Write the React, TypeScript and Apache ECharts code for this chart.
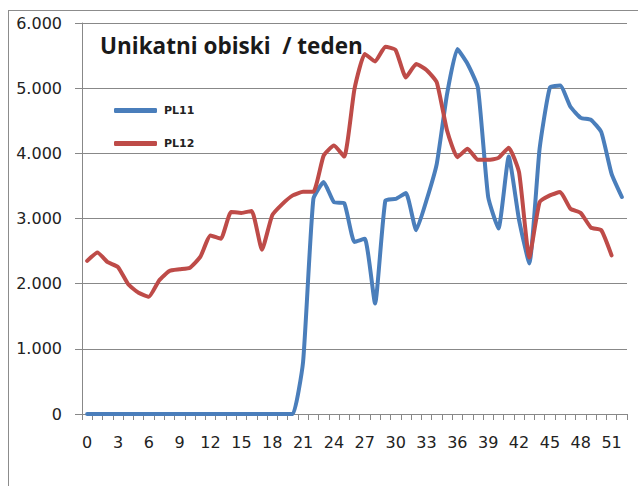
import React, { useEffect, useRef } from "react";
import * as echarts from "echarts";

const weeks: string[] = Array.from({ length: 53 }, (_, i) => String(i));

const pl11: number[] = [
  0, 0, 0, 0, 0, 0, 0, 0, 0, 0,
  0, 0, 0, 0, 0, 0, 0, 0, 0, 0,
  0, 800, 3300, 3560, 3250, 3235, 2640, 2690, 1695, 3275,
  3300, 3390, 2820, 3280, 3840, 4910, 5600, 5370, 5010, 3330,
  2845, 3950, 2980, 2310, 4070, 5010, 5040, 4715, 4545, 4515,
  4325, 3685, 3330,
];

const pl12: number[] = [
  2350, 2480, 2330, 2255, 1990, 1860, 1800, 2050, 2195, 2220,
  2245, 2410, 2740, 2690, 3100, 3085, 3115, 2520, 3050, 3225,
  3355, 3410, 3410, 3965, 4120, 3950, 4990, 5525, 5410, 5635,
  5585, 5165, 5370, 5280, 5090, 4350, 3940, 4070, 3900, 3900,
  3930, 4085, 3710, 2400, 3250, 3355, 3405, 3150, 3085, 2860,
  2820, 2435,
];

const seriesNames: string[] = ["PL11", "PL12"];
const titleText = "Unikatni obiski  / teden";

export default function App() {
  const ref = useRef<HTMLDivElement>(null);
  useEffect(() => {
    if (!ref.current) return;
    const chart = echarts.init(ref.current, undefined, { renderer: "svg" });
    const gray = "#888888";
    chart.setOption({
      animation: false,
      backgroundColor: "#ffffff",
      title: {
        text: titleText,
        left: 100,
        top: 34,
        padding: 0,
        textStyle: {
          fontFamily: "Open Sans",
          fontWeight: "bold",
          fontSize: 22.5,
          color: "#1a1a1a",
        },
      },
      legend: {
        orient: "vertical",
        left: 114,
        top: 105,
        padding: 0,
        icon: "roundRect",
        itemWidth: 43,
        itemHeight: 5,
        itemGap: 22,
        data: seriesNames,
        textStyle: {
          fontFamily: "DejaVu Sans",
          fontWeight: "bold",
          fontSize: 11,
          color: "#222",
          padding: [0, 0, 0, 2],
        },
      },
      grid: { left: 82, right: 11, top: 23, bottom: 72, containLabel: false },
      xAxis: {
        type: "category",
        data: weeks,
        boundaryGap: true,
        axisLine: { show: true, lineStyle: { color: gray, width: 1 } },
        axisTick: { show: true, interval: 0, length: 6, lineStyle: { color: gray } },
        axisLabel: {
          interval: 2,
          margin: 20,
          fontFamily: "DejaVu Sans",
          fontSize: 16,
          color: "#222",
        },
        splitLine: { show: false },
      },
      yAxis: {
        type: "value",
        min: 0,
        max: 6000,
        interval: 1000,
        axisLine: { show: true, lineStyle: { color: gray, width: 1 } },
        axisTick: { show: true, length: 7, lineStyle: { color: gray } },
        axisLabel: {
          margin: 20,
          fontFamily: "DejaVu Sans",
          fontSize: 16,
          color: "#222",
          formatter: (v: number) => (v === 0 ? "0" : (v / 1000).toFixed(3)),
        },
        splitLine: { show: true, lineStyle: { color: gray, width: 1 } },
      },
      series: [
        {
          name: seriesNames[0],
          type: "line",
          data: pl11,
          symbol: "none",
          smooth: 0.15,
          lineStyle: { color: "#4a7ebb", width: 4, cap: "round", join: "round" },
          itemStyle: { color: "#4a7ebb" },
        },
        {
          name: seriesNames[1],
          type: "line",
          data: pl12,
          symbol: "none",
          smooth: 0.15,
          lineStyle: { color: "#be4b48", width: 4, cap: "round", join: "round" },
          itemStyle: { color: "#be4b48" },
        },
      ],
      graphic: [
        {
          type: "line",
          shape: { x1: 8, y1: 10.5, x2: 638, y2: 10.5 },
          style: { stroke: "#8c8c8c", lineWidth: 1 },
          silent: true,
        },
        {
          type: "line",
          shape: { x1: 8.5, y1: 10, x2: 8.5, y2: 486 },
          style: { stroke: "#8c8c8c", lineWidth: 1 },
          silent: true,
        },
      ],
    });
    return () => chart.dispose();
  }, []);
  return (
    <div
      ref={ref}
      style={{ position: "absolute", left: 0, top: 0, width: 638, height: 486 }}
    />
  );
}
